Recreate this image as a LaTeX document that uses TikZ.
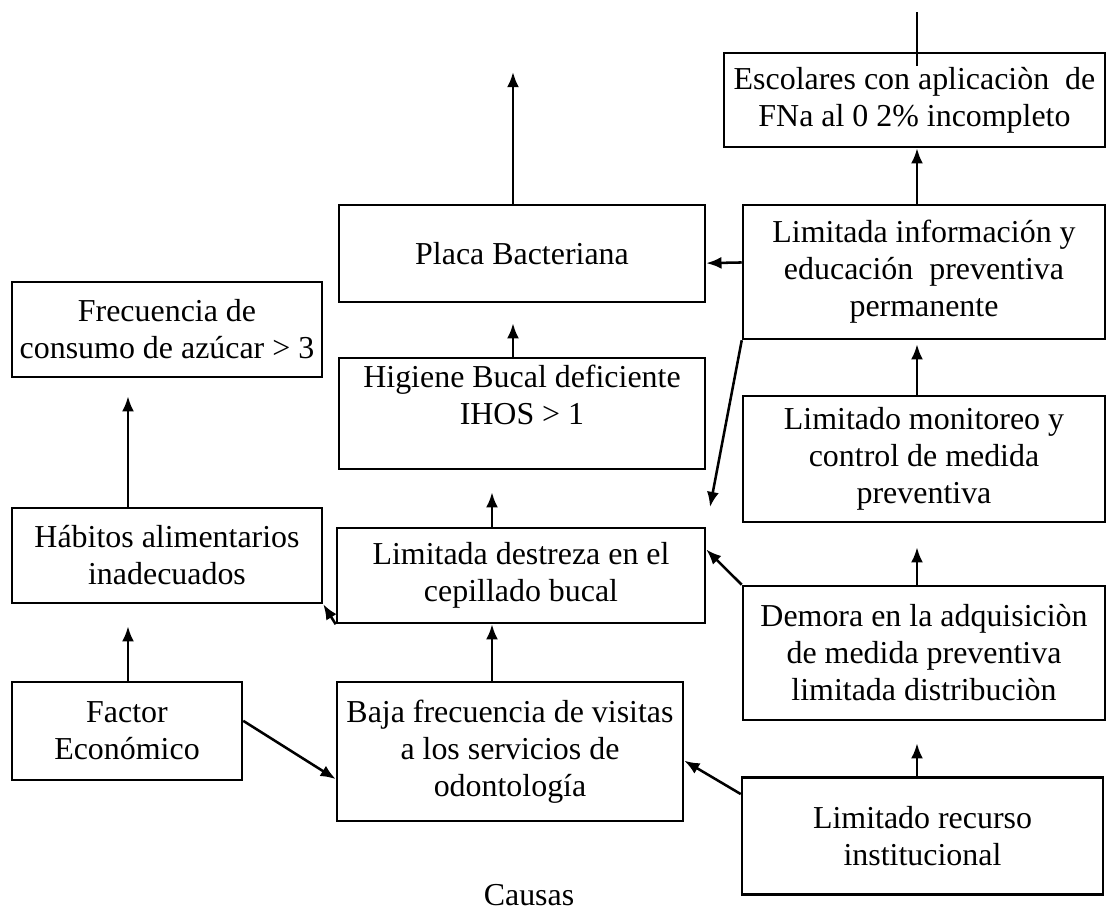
\documentclass[tikz,border=0pt]{standalone}
\usepackage{fontspec}
\setmainfont{Liberation Serif}
\usepackage{tikz}
\usetikzlibrary{arrows,arrows.meta,shapes}
\tikzstyle{box}=[draw, line width=1.8pt, align=center, inner sep=2pt, node font=\fontsize{22.7}{26.3}\selectfont]
\tikzstyle{note}=[draw=none, align=center, node font=\fontsize{22.7}{26.3}\selectfont]
\tikzstyle{edge}=[draw, line width=1.8pt, -{Latex[length=0.38cm,width=0.3cm]}]

\begin{document}
\begin{tikzpicture}[x=0.025cm, y=-0.025cm]
	\useasboundingbox (0,0) rectangle (1108,915);
	% First we draw the boxes
	\foreach \pos/\label/\bw/\bh/\name in {
		{(914.5,100)/esc/381/94/{Escolares con aplicaciòn\ \ de\\FNa al 0 2\% incompleto}},
		{(522,253.5)/placa/366/97/{Placa Bacteriana}},
		{(924,272)/info/362/134/{Limitada información y\\educación\ \ preventiva\\permanente}},
		{(167,329.5)/frec/310/95/{Frecuencia de\\consumo de azúcar > 3}},
		{(522,413.5)/hig/366/111/{Higiene Bucal deficiente\\IHOS > 1\\\mbox{}}},
		{(924,459)/monit/362/126/{Limitado monitoreo y\\control de medida\\preventiva}},
		{(167,555.5)/hab/310/95/{Hábitos alimentarios\\inadecuados}},
		{(521,575.5)/dest/368/95/{Limitada destreza en el\\cepillado bucal}},
		{(924,653)/demora/362/134/{Demora en la adquisiciòn\\de medida preventiva\\limitada distribuciòn}},
		{(127,731)/factor/230/98/{Factor\\Económico}},
		{(510,751.5)/baja/346/139/{Baja frecuencia de visitas\\a los servicios de\\odontología}},
		{(922.5,836)/recurso/361/117/{Limitado recurso\\institucional}}}
	\node[box, minimum width=\bw*0.025cm, minimum height=\bh*0.025cm] (\label) at \pos {\name};

	\node[note] (causas) at (529,895) {Causas};

	% columns of the vertical arrows
	\coordinate (xl) at (128,0);
	\coordinate (xm) at (492,0);
	\coordinate (xc) at (513,0);
	\coordinate (xr) at (917,0);
	\coordinate (efecto1) at (513,72);
	\coordinate (efecto2) at (917,12);

	% Connect boxes with arrows
	\foreach \source/\dest/\gap in {
		info.177/placa.-3/0,
		info.south west/dest.north east/0.5,
		dest.south west/hab.south east/0,
		demora.north west/dest.8/0,
		factor.5/baja.189/0,
		recurso.167/baja.-3.5/0}
	\path[edge, shorten >=\gap cm] (\source) -- (\dest);

	\path[edge] (xc |- placa.north) -- (efecto1);
	\path[edge, -, shorten >=-0.35cm] (efecto2) -- (xr |- esc.north);
	\path[edge] (xr |- info.north) -- (xr |- esc.south);
	\path[edge, shorten >=0.5cm] (xc |- hig.north) -- (xc |- placa.south);
	\path[edge, shorten >=0.1cm] (xr |- monit.north) -- (xr |- info.south);
	\path[edge, shorten >=0.55cm] (xm |- dest.north) -- (xm |- hig.south);
	\path[edge, shorten >=0.6cm] (xr |- demora.north) -- (xr |- monit.south);
	\path[edge, shorten >=0.45cm] (xl |- hab.north) -- (xl |- frec.south);
	\path[edge, shorten >=0.55cm] (xl |- factor.north) -- (xl |- hab.south);
	\path[edge] (xm |- baja.north) -- (xm |- dest.south);
	\path[edge, shorten >=0.55cm] (xr |- recurso.north) -- (xr |- demora.south);

\end{tikzpicture}
\end{document}
